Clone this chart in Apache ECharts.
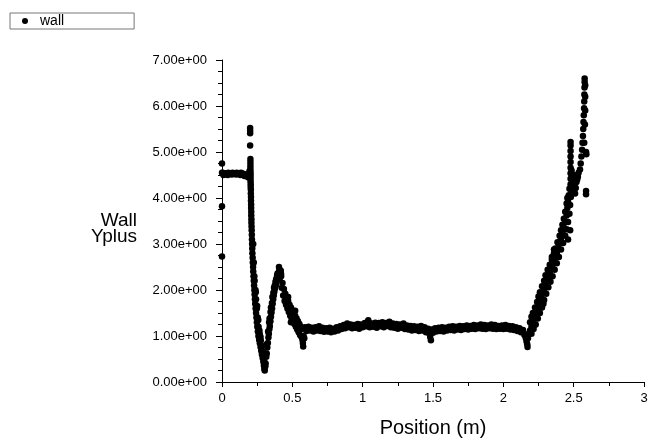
<!DOCTYPE html>
<html>
<head>
<meta charset="utf-8">
<script src="https://cdn.jsdelivr.net/npm/echarts@6/dist/echarts.min.js"></script>
<style>
html,body{margin:0;padding:0;background:#fff;}
#chart{width:657px;height:439px;}
</style>
</head>
<body>
<div id="chart"></div>
<script>
// ---- data (position m, wall y+) ----
const seriesName = 'wall';
const xTicks = [0, 0.5, 1, 1.5, 2, 2.5, 3];
const yTicks = [0, 1, 2, 3, 4, 5, 6, 7];

const edgePoints = [[0,4.75],[0,3.82],[0,2.73],[0,4.55]];

const plateau = [[0.005,4.55],[0.015,4.52],[0.025,4.54],[0.035,4.53],[0.045,4.55],[0.055,4.52],[0.065,4.54],[0.075,4.55],[0.085,4.53],[0.095,4.54],[0.105,4.55],[0.115,4.53],[0.125,4.54],[0.135,4.55],[0.145,4.53],[0.155,4.52],[0.165,4.51],[0.175,4.48],[0.185,4.45],[0.19,4.50],[0.195,4.58],
  [0.01,4.50],[0.04,4.50],[0.07,4.51],[0.10,4.51],[0.13,4.50],[0.16,4.48]];

const spike = [[0.2,5.52],[0.2,5.46],[0.2,5.41],[0.2,5.14],[0.202,4.85],[0.202,4.78],[0.202,4.72],[0.202,4.66],[0.202,4.60],[0.203,4.54],[0.203,4.48],[0.203,4.42],[0.203,4.36],[0.204,4.30],[0.204,4.24],[0.205,4.18],[0.205,4.10],[0.206,4.02],[0.206,3.94],[0.207,3.86],[0.207,3.78],[0.208,3.70],[0.208,3.62],[0.209,3.54],[0.209,3.46],[0.21,3.38],[0.211,3.30],[0.212,3.20],[0.213,3.10],[0.214,3.00],[0.215,2.90],[0.216,2.80],[0.218,2.70],[0.219,2.60],[0.221,2.50],[0.222,2.40],[0.224,2.30],
  [0.222,3.0],[0.226,2.6],[0.23,2.3]];

const firstDrop = [[0.226,2.20],[0.228,2.10],[0.23,2.00],[0.232,1.90],[0.234,1.80],[0.236,1.70],[0.239,1.60],[0.242,1.50],[0.245,1.40],[0.248,1.30],[0.251,1.20],[0.255,1.10],[0.259,1.00],[0.264,0.92],[0.269,0.84],[0.274,0.76],[0.279,0.68],[0.284,0.60],[0.289,0.52],[0.294,0.44],[0.298,0.36],[0.301,0.29],[0.304,0.25],
  [0.238,2.0],[0.242,1.8],[0.248,1.6],[0.254,1.4],[0.26,1.2],[0.268,1.05],[0.276,0.9],[0.284,0.78],[0.292,0.66],[0.298,0.55],[0.304,0.42],[0.308,0.34],
  [0.232,2.2],[0.24,1.95],[0.25,1.65],[0.258,1.35],[0.266,1.12],[0.274,0.98]];

const firstRise = [[0.31,0.40],[0.315,0.55],[0.318,0.62],[0.322,0.75],[0.326,0.85],[0.33,0.97],[0.333,1.05],[0.337,1.15],[0.34,1.22],[0.344,1.32],[0.348,1.42],[0.352,1.51],[0.356,1.60],[0.36,1.70],[0.364,1.80],[0.368,1.88],[0.372,1.96],[0.377,2.04],[0.382,2.10],[0.386,2.16],[0.39,2.21],[0.394,2.26],[0.398,2.30],[0.402,2.35],[0.405,2.40],
  [0.335,1.30],[0.345,1.52],[0.355,1.72],[0.365,1.94],[0.375,2.10],[0.385,2.24],[0.395,2.36],
  [0.318,0.82],[0.328,1.10],[0.338,1.38],[0.348,1.62],[0.358,1.85],[0.37,2.05],[0.38,2.18],[0.392,2.32]];

const peak = [[0.405,2.50],[0.41,2.44],[0.415,2.38],[0.40,2.30],[0.42,2.30],[0.41,2.25],[0.418,2.42]];

const secondDrop = [[0.42,2.35],[0.43,2.15],[0.44,2.02],[0.45,1.92],[0.46,1.84],[0.47,1.76],[0.48,1.68],[0.49,1.62],[0.50,1.56],[0.51,1.50],[0.52,1.44],[0.53,1.38],[0.54,1.32],[0.55,1.26],[0.56,1.20],[0.57,1.16],
  [0.425,2.05],[0.435,1.88],[0.445,1.76],[0.455,1.68],[0.465,1.60],[0.475,1.52],[0.485,1.44],[0.495,1.38],[0.505,1.32],[0.515,1.26],[0.525,1.20],[0.535,1.14],[0.545,1.08],[0.555,1.02],[0.565,0.98],[0.572,0.92],
  [0.575,0.85],[0.577,0.77],[0.47,1.85],[0.52,1.55],[0.49,1.30],[0.58,1.00],[0.585,0.95]];

const plateauLowUpper = [[0.59,1.19],[0.615,1.20],[0.64,1.18],[0.665,1.19],[0.69,1.21],[0.715,1.18],[0.74,1.17],[0.765,1.18],[0.79,1.16],[0.815,1.19],[0.84,1.21],[0.865,1.24],[0.89,1.27],[0.915,1.25],[0.94,1.24],[0.965,1.26],[0.99,1.25],[1.015,1.28],[1.04,1.31],[1.065,1.27],[1.09,1.29],[1.115,1.28],[1.14,1.30],[1.165,1.28],[1.19,1.31],[1.215,1.27],[1.24,1.26],[1.265,1.25],[1.29,1.27],[1.315,1.23],[1.34,1.22],[1.365,1.21],[1.39,1.20],[1.415,1.22],[1.44,1.19],[1.465,1.16],[1.49,1.14],[1.515,1.17],[1.54,1.18],[1.565,1.19],[1.59,1.18],[1.615,1.20],[1.64,1.21],[1.665,1.20],[1.69,1.22],[1.715,1.21],[1.74,1.23],[1.765,1.22],[1.79,1.24],[1.815,1.23],[1.84,1.25],[1.865,1.24],[1.89,1.23],[1.915,1.25],[1.94,1.24],[1.965,1.22],[1.99,1.23],[2.015,1.24],[2.04,1.22],[2.065,1.21],[2.09,1.19],[2.115,1.17],[2.14,1.13]];

const plateauLowLower = [[0.6,1.11],[0.625,1.12],[0.65,1.10],[0.675,1.12],[0.7,1.11],[0.725,1.09],[0.75,1.10],[0.775,1.08],[0.8,1.10],[0.825,1.12],[0.85,1.15],[0.875,1.17],[0.9,1.19],[0.925,1.17],[0.95,1.18],[0.975,1.16],[1.0,1.19],[1.025,1.21],[1.05,1.19],[1.075,1.20],[1.1,1.18],[1.125,1.21],[1.15,1.19],[1.175,1.22],[1.2,1.19],[1.225,1.18],[1.25,1.16],[1.275,1.18],[1.3,1.15],[1.325,1.14],[1.35,1.12],[1.375,1.13],[1.4,1.11],[1.425,1.12],[1.45,1.08],[1.475,1.05],[1.5,1.07],[1.525,1.10],[1.55,1.11],[1.575,1.10],[1.6,1.12],[1.625,1.13],[1.65,1.12],[1.675,1.14],[1.7,1.13],[1.725,1.15],[1.75,1.14],[1.775,1.16],[1.8,1.15],[1.825,1.17],[1.85,1.16],[1.875,1.15],[1.9,1.17],[1.925,1.16],[1.95,1.15],[1.975,1.16],[2.0,1.15],[2.025,1.16],[2.05,1.14],[2.075,1.13],[2.1,1.11],[2.125,1.08],[2.15,1.02]];

const plateauOutliers = [[1.04,1.34],[1.48,0.98],[1.485,0.91],[2.16,0.95],[2.165,0.88],[2.17,0.82],[2.172,0.76]];

const finalRise = [[2.175,0.95],[2.18,1.05],[2.19,1.12],[2.20,1.20],[2.21,1.30],[2.22,1.38],[2.23,1.45],[2.24,1.52],[2.25,1.62],[2.26,1.72],[2.27,1.82],[2.28,1.92],[2.29,2.02],[2.30,2.10],[2.31,2.20],[2.32,2.28],[2.33,2.37],[2.34,2.46],[2.35,2.55],[2.36,2.64],[2.37,2.72],[2.38,2.80],[2.39,2.92],[2.40,3.02],[2.41,3.13],[2.42,3.24],[2.43,3.36],[2.44,3.48],[2.45,3.62],[2.455,3.78],[2.46,3.92],[2.465,4.06],[2.47,4.20],
  [2.19,1.30],[2.20,1.42],[2.21,1.50],[2.225,1.62],[2.24,1.74],[2.25,1.86],[2.26,1.95],[2.275,2.08],[2.29,2.20],[2.30,2.32],[2.315,2.44],[2.33,2.55],[2.345,2.66],[2.36,2.80],[2.37,2.90],[2.385,3.04],[2.40,3.18],[2.41,3.30],[2.42,3.42],[2.43,3.55],[2.44,3.70],[2.45,3.88],[2.455,4.00],
  [2.20,1.05],[2.215,1.15],[2.23,1.25],[2.245,1.38],[2.26,1.50],[2.275,1.62],[2.29,1.78],[2.305,1.92],[2.32,2.06],[2.335,2.18],[2.35,2.30],[2.365,2.44],[2.38,2.58],[2.395,2.72],[2.41,2.88],[2.425,3.02],[2.44,3.18],[2.45,3.32],[2.46,3.48],[2.47,3.66],[2.475,3.85],[2.48,4.02],
  [2.345,2.72],[2.36,2.88],[2.46,3.10],[2.475,3.30],[2.285,1.70],[2.225,1.25]];

const tipRegion = [[2.478,4.30],[2.478,4.42],[2.478,4.54],[2.478,4.66],[2.478,4.78],[2.478,4.90],[2.478,5.02],[2.478,5.14],[2.478,5.22],
  [2.485,4.15],[2.49,4.25],[2.495,4.12],[2.50,4.20],[2.505,4.30],[2.51,4.10],[2.515,4.22],[2.52,4.35],[2.525,4.40],[2.53,4.46],[2.49,4.40],[2.50,4.50],[2.485,4.60],
  [2.535,4.55],[2.545,4.62],[2.55,4.75],[2.555,4.90],[2.56,5.05],[2.563,5.20],[2.566,5.35],[2.568,5.50],[2.57,5.65],[2.572,5.80],[2.574,5.95],[2.575,6.10],[2.576,6.25],[2.577,6.40],[2.578,6.52],[2.578,6.60],
  [2.582,5.90],[2.582,6.20],[2.582,6.45],[2.58,5.60],[2.575,5.2],
  [2.588,5.00],[2.59,4.95],[2.588,4.15],[2.588,4.08]];

const allPoints = [].concat(edgePoints, plateau, spike, firstDrop, firstRise, peak, secondDrop,
  plateauLowUpper, plateauLowLower, plateauOutliers, finalRise, tipRegion);

function sci(v) {
  if (v === 0) return '0.00e+00';
  const e = Math.floor(Math.log10(Math.abs(v)) + 1e-9);
  const m = v / Math.pow(10, e);
  const es = (e < 0 ? '-' : '+') + String(Math.abs(e)).padStart(2, '0');
  return m.toFixed(2) + 'e' + es;
}

const chart = echarts.init(document.getElementById('chart'), null, {renderer: 'canvas'});
const font = 'Arial, "Liberation Sans", Helvetica, sans-serif';
chart.setOption({
  animation: false,
  backgroundColor: '#fff',
  textStyle: {fontFamily: font},
  legend: {
    data: [{name: seriesName, icon: 'circle'}],
    left: 10, top: 13,
    orient: 'horizontal',
    itemWidth: 6, itemHeight: 6, itemGap: 0,
    padding: [1, 70, 1, 12],
    borderColor: '#777', borderWidth: 1, borderRadius: 0,
    backgroundColor: '#fff',
    textStyle: {fontFamily: font, fontSize: 14, color: '#000', padding: [0, 0, 0, 7]}
  },
  grid: {left: 222, right: 13, top: 60, bottom: 57, containLabel: false, outerBoundsMode: 'none'},
  xAxis: {
    type: 'value', min: xTicks[0], max: xTicks[xTicks.length - 1], interval: 0.5,
    name: 'Position (m)', nameLocation: 'middle', nameGap: 36,
    nameTextStyle: {fontFamily: font, fontSize: 20, color: '#000'},
    axisLine: {show: true, lineStyle: {color: '#000', width: 1}},
    axisTick: {show: true, length: 5, lineStyle: {color: '#000'}},
    minorTick: {show: true, splitNumber: 2, length: 4, lineStyle: {color: '#000'}},
    splitLine: {show: false},
    axisLabel: {fontFamily: font, fontSize: 13, color: '#000', margin: 10,
      formatter: v => String(v)}
  },
  yAxis: {
    type: 'value', min: yTicks[0], max: yTicks[yTicks.length - 1], interval: 1,
    name: '\nWall\nYplus', nameLocation: 'middle', nameRotate: 0, nameGap: 85,
    nameTextStyle: {fontFamily: font, fontSize: 19, color: '#000', align: 'right',
      verticalAlign: 'middle', lineHeight: 16},
    axisLine: {show: true, lineStyle: {color: '#000', width: 1}},
    axisTick: {show: true, length: 6, lineStyle: {color: '#000'}},
    minorTick: {show: true, splitNumber: 4, length: 4, lineStyle: {color: '#000'}},
    splitLine: {show: false},
    axisLabel: {fontFamily: font, fontSize: 13, color: '#000', margin: 15, formatter: sci}
  },
  series: [{
    name: seriesName,
    type: 'scatter',
    symbol: 'circle',
    symbolSize: 6.5,
    itemStyle: {color: '#000', opacity: 1},
    data: allPoints
  }]
});
</script>
</body>
</html>
